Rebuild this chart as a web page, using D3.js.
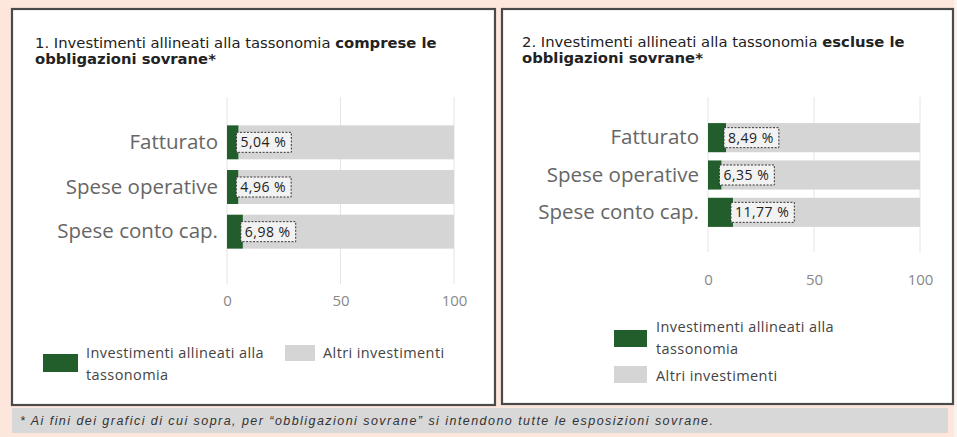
<!DOCTYPE html>
<html><head><meta charset="utf-8">
<script src="https://cdn.jsdelivr.net/npm/d3@7"></script>
<style>
html,body{margin:0;padding:0;background:#fde7dd;}
svg{display:block;}
</style></head>
<body>
<svg id="c" width="957" height="437"></svg>
<script>
const categories = ["Fatturato", "Spese operative", "Spese conto cap."];
const alignedIncl = [5.04, 4.96, 6.98];
const otherIncl = [94.96, 95.04, 93.02];
const alignedExcl = [8.49, 6.35, 11.77];
const otherExcl = [91.51, 93.65, 88.23];
const labelsIncl = ["5,04 %", "4,96 %", "6,98 %"];
const labelsExcl = ["8,49 %", "6,35 %", "11,77 %"];
const tickValues = [0, 50, 100];
const seriesNames = ["Investimenti allineati alla tassonomia", "Altri investimenti"];

const GREEN = "#215e2c", GREY = "#d5d5d5";
const svg = d3.select("#c");

svg.append("rect").attr("x", 954).attr("y", 0).attr("width", 3).attr("height", 437).attr("fill", "#fbf3ef");

function panelBox(x, y, w, h) {
  svg.append("rect").attr("x", x).attr("y", y).attr("width", w).attr("height", h)
    .attr("fill", "#fff").attr("stroke", "#4a4a4a").attr("stroke-width", 2.2);
}
panelBox(12, 9, 483, 396);
panelBox(502, 9, 451, 395);

svg.append("rect").attr("x", 12).attr("y", 408).attr("width", 936).attr("height", 25).attr("fill", "#d8d8d8");
svg.append("text").attr("x", 20).attr("y", 425).attr("font-family", "Liberation Sans, Arial, sans-serif")
  .attr("font-style", "italic").attr("font-size", 12.5).attr("letter-spacing", 1.45).attr("fill", "#333")
  .text("* Ai fini dei grafici di cui sopra, per \u201Cobbligazioni sovrane\u201D si intendono tutte le esposizioni sovrane.");

function title(x, y, normal, bold1, line2) {
  const t = svg.append("text").attr("x", x).attr("y", y).attr("font-family", "DejaVu Sans, Verdana, sans-serif")
    .attr("font-size", 14.8).attr("fill", "#222");
  t.append("tspan").text(normal);
  t.append("tspan").attr("font-weight", "bold").text(bold1);
  svg.append("text").attr("x", x).attr("y", y + 16).attr("font-family", "DejaVu Sans, Verdana, sans-serif")
    .attr("font-size", 14.8).attr("font-weight", "bold").attr("fill", "#222").text(line2);
}
title(35, 48, "1. Investimenti allineati alla tassonomia ", "comprese le", "obbligazioni sovrane*");
title(522, 47, "2. Investimenti allineati alla tassonomia ", "escluse le", "obbligazioni sovrane*");

function chart(cfg) {
  const x = d3.scaleLinear().domain([0, 100]).range([cfg.x0, cfg.x1]);
  const y = d3.scaleBand().domain(categories).range([cfg.yTop, cfg.yBot]).paddingInner(cfg.pad).paddingOuter(cfg.pad / 2);
  const g = svg.append("g");
  g.selectAll("line.grid").data(tickValues).join("line")
    .attr("x1", d => x(d)).attr("x2", d => x(d))
    .attr("y1", cfg.gridTop).attr("y2", cfg.gridBot)
    .attr("stroke", "#e4e4e4").attr("stroke-width", 1);
  const ax = g.append("g").attr("transform", `translate(0,${cfg.tickY})`)
    .call(d3.axisBottom(x).tickValues(tickValues).tickSize(0).tickPadding(0).tickFormat(d3.format("d")));
  ax.select(".domain").remove();
  ax.selectAll("text").attr("font-family", "Open Sans, sans-serif").attr("font-size", 15).attr("fill", "#888").attr("dy", "0.35em");
  const ay = g.append("g").attr("transform", `translate(${cfg.x0 - 9},0)`)
    .call(d3.axisLeft(y).tickSize(0).tickPadding(0));
  ay.select(".domain").remove();
  ay.selectAll("text").attr("font-family", "Open Sans, sans-serif").attr("font-size", 20.5).attr("fill", "#666");
  g.selectAll("rect.other").data(categories).join("rect")
    .attr("x", (d, i) => x(cfg.aligned[i])).attr("y", d => y(d))
    .attr("width", (d, i) => x(cfg.aligned[i] + cfg.other[i]) - x(cfg.aligned[i])).attr("height", y.bandwidth())
    .attr("fill", GREY);
  g.selectAll("rect.al").data(categories).join("rect")
    .attr("x", x(0)).attr("y", d => y(d))
    .attr("width", (d, i) => x(cfg.aligned[i]) - x(0)).attr("height", y.bandwidth())
    .attr("fill", GREEN);
  categories.forEach((c, i) => {
    const lx = x(cfg.aligned[i]) - 2;
    const cy = y(c) + y.bandwidth() / 2;
    const lg = g.append("g");
    const box = lg.append("rect");
    const t = lg.append("text").attr("x", lx + 4).attr("y", cy).attr("dy", "0.35em")
      .attr("font-family", "Open Sans, sans-serif").attr("font-size", 14).attr("letter-spacing", 0.5).attr("fill", "#222").text(cfg.labels[i]);
    const w = t.node().getComputedTextLength();
    box.attr("x", lx).attr("y", cy - 10).attr("width", w + 9).attr("height", 20)
      .attr("fill", "#f2f2f2").attr("stroke", "#333").attr("stroke-width", 1).attr("stroke-dasharray", "2,1.5");
  });
}
chart({x0: 227, x1: 454, yTop: 120, yBot: 254, pad: 0.24, gridTop: 97, gridBot: 284, tickY: 301,
  aligned: alignedIncl, other: otherIncl, labels: labelsIncl});
chart({x0: 708, x1: 920, yTop: 119, yBot: 231, pad: 0.22, gridTop: 97, gridBot: 252, tickY: 280,
  aligned: alignedExcl, other: otherExcl, labels: labelsExcl});

function legendItem(sx, sy, sw, sh, color, tx, lines) {
  svg.append("rect").attr("x", sx).attr("y", sy).attr("width", sw).attr("height", sh).attr("fill", color);
  const t = svg.append("text").attr("font-family", "Open Sans, sans-serif").attr("font-size", 14.5)
    .attr("letter-spacing", 0.4).attr("fill", "#444");
  lines.forEach((l, i) => t.append("tspan").attr("x", tx).attr("y", lines.y0 + i * 22).text(l));
}
function split(name, y0) { const a = name === seriesNames[0] ? ["Investimenti allineati alla", "tassonomia"] : [name]; a.y0 = y0; return a; }
legendItem(43, 354, 35, 18, GREEN, 86, split(seriesNames[0], 358));
legendItem(285, 345, 30, 16, GREY, 323, split(seriesNames[1], 358));
legendItem(614, 330, 33, 17, GREEN, 656, split(seriesNames[0], 332));
legendItem(614, 366, 33, 17, GREY, 656, split(seriesNames[1], 381));
</script>
</body></html>
